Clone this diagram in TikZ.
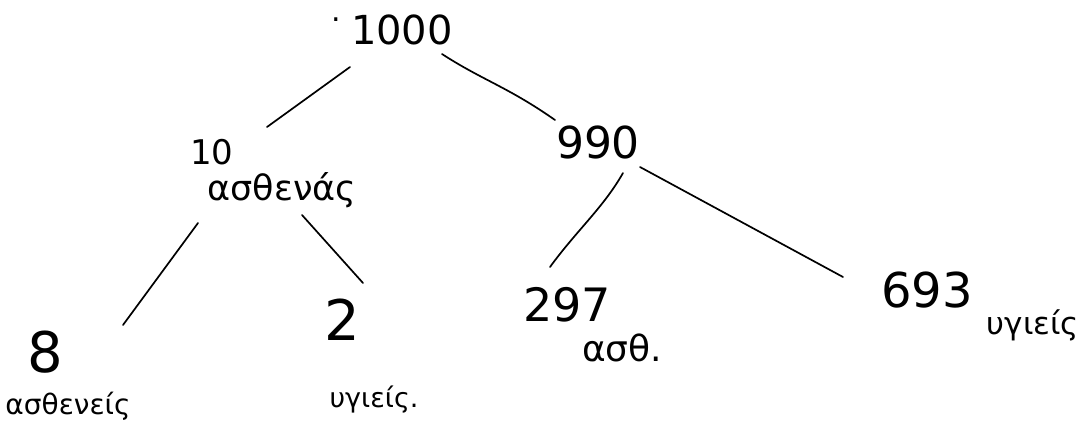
\documentclass[tikz,border=0pt]{standalone}
\usepackage{fontspec}
\setmainfont{DejaVu Sans}
\usetikzlibrary{calc}
\begin{document}
\begin{tikzpicture}[x=1pt,y=-1pt,
  txt/.style={inner sep=0pt},
  edge/.style={line width=1.7pt,line cap=round,line join=round}]
\path[use as bounding box,fill=white] (0,0) rectangle (1083,432);
\node[txt,font=\fontsize{40}{42}\selectfont] (n1000) at (402,30) {1000};
\node[txt,font=\fontsize{30}{32}\selectfont] (dots) at (336,20) {.};
\node[txt,font=\fontsize{34}{36}\selectfont] (n10) at (212,152) {10};
\node[txt,font=\fontsize{35}{37}\selectfont] (nas1) at (282,190) {ασθενάς};
\node[txt,font=\fontsize{44}{46}\selectfont] (n990) at (598,142) {990};
\node[txt,font=\fontsize{56}{58}\selectfont] (n8) at (45,352) {8};
\node[txt,font=\fontsize{28}{30}\selectfont] (nas8) at (68,406) {ασθενείς};
\node[txt,font=\fontsize{56}{58}\selectfont] (n2) at (342,320) {2};
\node[txt,font=\fontsize{27}{29}\selectfont] (nhy2) at (374,400) {υγιείς.};
\node[txt,font=\fontsize{46}{48}\selectfont] (n297) at (567,305) {297};
\node[txt,font=\fontsize{36}{38}\selectfont] (nas297) at (622,348) {ασθ.};
\node[txt,font=\fontsize{48}{50}\selectfont] (n693) at (927,290) {693};
\node[txt,font=\fontsize{31}{33}\selectfont] (nhy693) at (1033,325) {υγιείς};
\draw[edge] ($(n1000)+(-52,37)$) -- ($(n10)+(55,-25)$);
\draw[edge] ($(n1000)+(40,24)$) .. controls ($(n1000)+(80,50)$) and ($(n990)+(-90,-55)$) .. ($(n990)+(-43,-22)$);
\draw[edge] ($(n990)+(25,31)$) .. controls ($(n990)+(5,66)$) and ($(n297)+(10,-75)$) .. ($(n297)+(-17,-38)$);
\draw[edge] ($(n990)+(42,25)$) -- ($(n693)+(-84,-13)$);
\draw[edge] ($(nas1)+(-84,33)$) -- ($(n8)+(78,-27)$);
\draw[edge] ($(nas1)+(20,25)$) -- ($(n2)+(21,-37)$);
\end{tikzpicture}
\end{document}
